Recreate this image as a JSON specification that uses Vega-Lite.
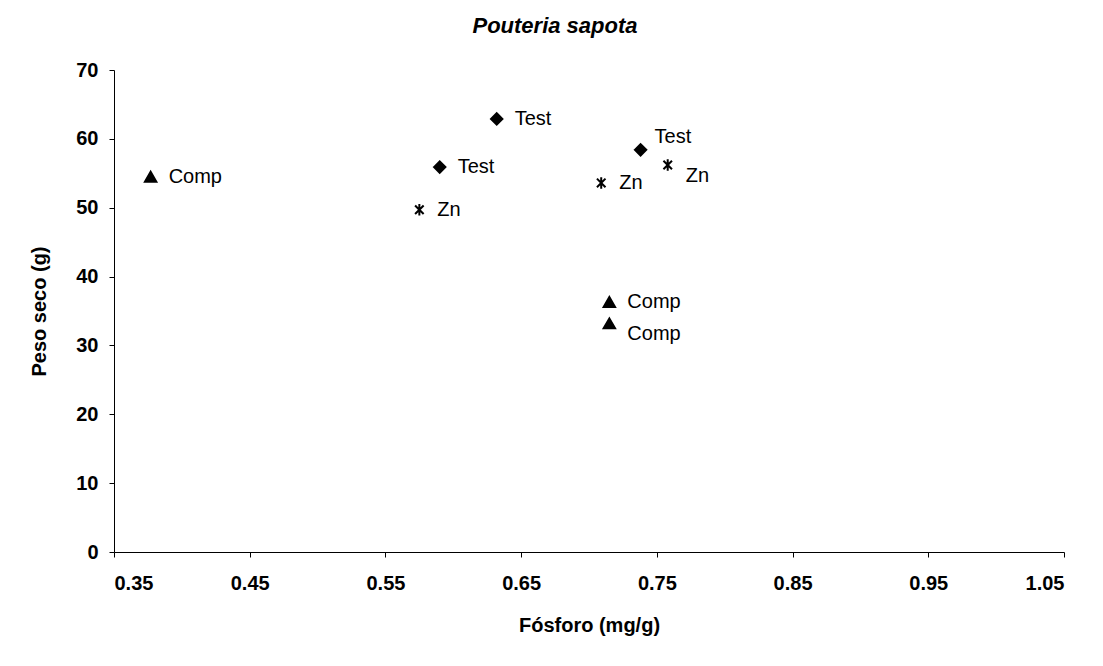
{
  "$schema": "https://vega.github.io/schema/vega-lite/v6.json",
  "autosize": "none",
  "width": 950,
  "height": 482,
  "padding": {"left": 114, "top": 70, "right": 39, "bottom": 114},
  "background": "white",
  "config": {
    "view": {"stroke": null},
    "font": "Liberation Sans",
    "axis": {
      "grid": false,
      "domainColor": "black",
      "tickColor": "black",
      "tickSize": 5,
      "labelFont": "Liberation Sans",
      "labelFontWeight": "bold",
      "labelFontSize": 20,
      "labelColor": "black",
      "titleFont": "Liberation Sans",
      "titleFontWeight": "bold",
      "titleFontSize": 20,
      "titleColor": "black"
    }
  },
  "title": {
    "text": "Pouteria sapota",
    "font": "Liberation Sans",
    "fontSize": 22,
    "fontStyle": "italic",
    "fontWeight": "bold",
    "color": "black",
    "anchor": "middle",
    "dx": -34,
    "offset": 22
  },
  "data": {
    "values": [
      {"fosforo": 0.377, "peso": 54.5, "trat": "Comp", "pos": "right"},
      {"fosforo": 0.715, "peso": 36.3, "trat": "Comp", "pos": "right"},
      {"fosforo": 0.715, "peso": 33.2, "trat": "Comp", "pos": "below"},
      {"fosforo": 0.632, "peso": 62.9, "trat": "Test", "pos": "right"},
      {"fosforo": 0.590, "peso": 55.9, "trat": "Test", "pos": "right"},
      {"fosforo": 0.738, "peso": 58.4, "trat": "Test", "pos": "above"},
      {"fosforo": 0.575, "peso": 49.7, "trat": "Zn", "pos": "right"},
      {"fosforo": 0.709, "peso": 53.6, "trat": "Zn", "pos": "right"},
      {"fosforo": 0.758, "peso": 56.2, "trat": "Zn", "pos": "below"}
    ]
  },
  "encoding": {
    "x": {
      "field": "fosforo",
      "type": "quantitative",
      "scale": {"domain": [0.35, 1.05], "nice": false, "zero": false},
      "axis": {
        "title": "Fósforo (mg/g)",
        "values": [0.35, 0.45, 0.55, 0.65, 0.75, 0.85, 0.95, 1.05],
        "format": ".2f",
        "labelPadding": 16,
        "titlePadding": 22
      }
    },
    "y": {
      "field": "peso",
      "type": "quantitative",
      "scale": {"domain": [0, 70], "nice": false},
      "axis": {
        "title": "Peso seco (g)",
        "values": [0, 10, 20, 30, 40, 50, 60, 70],
        "labelPadding": 11,
        "titlePadding": 26
      }
    }
  },
  "layer": [
    {
      "mark": {"type": "point", "filled": true, "opacity": 1, "stroke": "black", "strokeWidth": 2, "size": 130},
      "encoding": {
        "shape": {
          "field": "trat",
          "type": "nominal",
          "scale": {
            "domain": ["Comp", "Test", "Zn"],
            "range": ["triangle-up", "diamond", "M-0.75,-0.75L0.75,0.75M0.75,-0.75L-0.75,0.75M0,-1L0,1"]
          },
          "legend": null
        },
        "color": {"value": "black"}
      }
    },
    {
      "transform": [{"filter": "datum.pos === 'right'"}],
      "mark": {"type": "text", "align": "left", "baseline": "middle", "dx": 18, "fontSize": 20, "font": "Liberation Sans", "color": "black"},
      "encoding": {"text": {"field": "trat"}}
    },
    {
      "transform": [{"filter": "datum.pos === 'above'"}],
      "mark": {"type": "text", "align": "left", "baseline": "middle", "dx": 14, "dy": -13, "fontSize": 20, "font": "Liberation Sans", "color": "black"},
      "encoding": {"text": {"field": "trat"}}
    },
    {
      "transform": [{"filter": "datum.pos === 'below'"}],
      "mark": {"type": "text", "align": "left", "baseline": "middle", "dx": 18, "dy": 11, "fontSize": 20, "font": "Liberation Sans", "color": "black"},
      "encoding": {"text": {"field": "trat"}}
    }
  ]
}
